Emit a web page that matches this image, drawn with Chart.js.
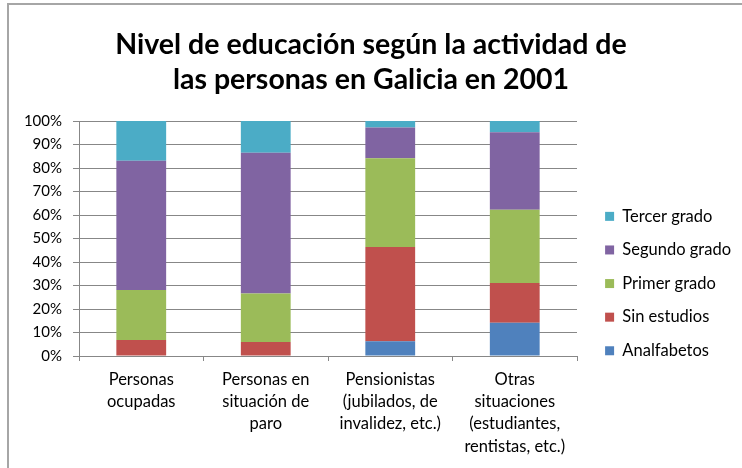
<!DOCTYPE html>
<html>
<head>
<meta charset="utf-8">
<script src="https://cdn.jsdelivr.net/npm/chart.js@4"></script>
<style>
	html, body { margin: 0; padding: 0; background: #fff; overflow: hidden; }
	#wrap { position: relative; width: 742px; height: 468px; }
	#frame { position: absolute; left: 7px; top: 3px; width: 800px; height: 520px; border: 2px solid #a6a6a6; box-sizing: border-box; }
	#EduChart { position: absolute; left: 0; top: 0; }
</style>
</head>
<body>
<div id="wrap">
	<div id="frame"></div>
	<canvas id="EduChart" width="742" height="468"></canvas>
</div>
<script>

// DATA (percent of each group)
const categories = [
	["Personas", "ocupadas"],
	["Personas en", "situación de", "paro"],
	["Pensionistas", "(jubilados, de", "invalidez, etc.)"],
	["Otras", "situaciones", "(estudiantes,", "rentistas, etc.)"]
];
const analfabetos = [0.0, 0.0, 6.3, 14.2];
const sinEstudios = [6.8, 6.0, 40.1, 16.9];
const primerGrado = [21.3, 20.6, 37.7, 31.1];
const segundoGrado = [55.0, 59.9, 13.1, 33.0];
const tercerGrado = [16.9, 13.5, 2.8, 4.8];

const titleLines = ["Nivel de educación según la actividad de", "las personas en Galicia en 2001"];


Chart.defaults.font.family = "Lato, 'Open Sans', sans-serif";
Chart.defaults.color = "#000";

const gridColor = "#878787";

// legend sits a bit away from the plot, like in the excel chart
const legendPlacer = {
	id: "legendPlacer",
	beforeInit(chart) {
		const fit = chart.legend.fit;
		chart.legend.fit = function () {
			fit.call(this);
			this.width = 165;
		};
	},
	afterLayout(chart) {
		const lg = chart.legend;
		lg.left += 11;
		lg.right += 11;
		lg.top = chart.chartArea.top + 70;
	}
};

function makeSet(label, values, color) {
	return {
		label: label,
		data: values,
		backgroundColor: color,
		borderWidth: 0,
		barPercentage: 0.4,
		categoryPercentage: 1.0,
	};
}

new Chart(document.getElementById("EduChart"), {
	type: "bar",
	plugins: [legendPlacer],
	data: {
		labels: categories,
		datasets: [
			makeSet("Analfabetos", analfabetos, "#4F81BD"),
			makeSet("Sin estudios", sinEstudios, "#C0504D"),
			makeSet("Primer grado", primerGrado, "#9BBB59"),
			makeSet("Segundo grado", segundoGrado, "#8064A2"),
			makeSet("Tercer grado", tercerGrado, "#4BACC6"),
		],
	},
	options: {
		responsive: false,
		animation: false,
		layout: { padding: { left: 0, right: 0, top: 0, bottom: 0 } },
		plugins: {
			title: {
				display: true,
				text: titleLines,
				color: "#000",
				font: { size: 28.5, weight: "bold", lineHeight: 1.23 },
				padding: { top: 27.5, bottom: 23.4 },
			},
			legend: {
				position: "right",
				align: "start",
				reverse: true,
				labels: {
					boxWidth: 9,
					boxHeight: 9,
					padding: 17.1,
					font: { size: 16.5 },
					color: "#000",
				},
			},
			tooltip: { enabled: false },
		},
		scales: {
			x: {
				stacked: true,
				afterFit: (s) => { s.height = 112; },
				grid: {
					offset: true,
					drawOnChartArea: false,
					drawTicks: true,
					tickLength: 5,
					color: gridColor,
				},
				border: { color: gridColor },
				ticks: {
					maxRotation: 0,
					autoSkip: false,
					padding: 7,
					font: { size: 16.5, lineHeight: 1.36 },
					color: "#000",
				},
			},
			y: {
				stacked: true,
				min: 0,
				max: 100,
				afterFit: (s) => { s.width = 79; },
				grid: {
					color: gridColor,
					tickLength: 6,
				},
				border: { color: gridColor },
				ticks: {
					stepSize: 10,
					padding: 11,
					font: { size: 15 },
					color: "#000",
					callback: (v) => v + "%",
				},
			},
		},
	},
});
</script>
</body>
</html>
